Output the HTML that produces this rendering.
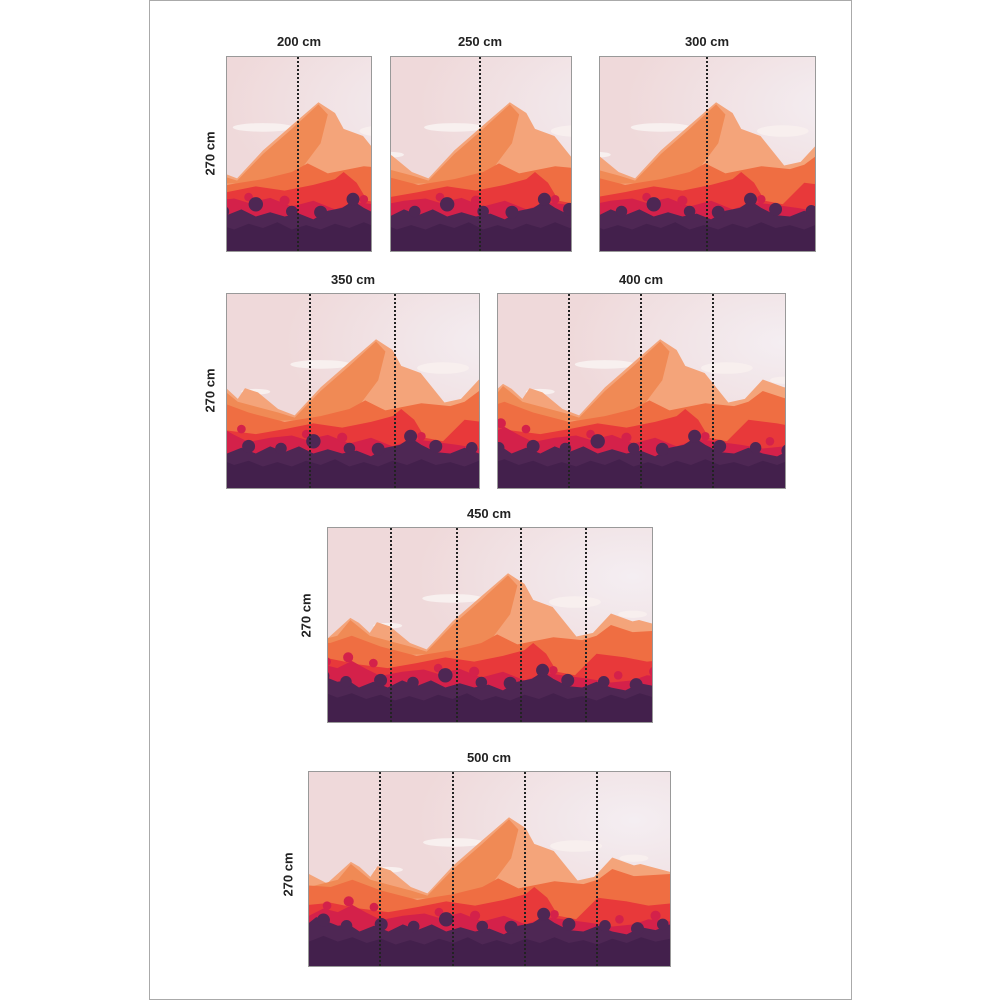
<!DOCTYPE html>
<html><head><meta charset="utf-8"><style>
html,body{margin:0;padding:0;background:#fff;width:1000px;height:1000px;overflow:hidden;position:relative;font-family:"Liberation Sans",sans-serif}
.frame{position:absolute;left:149px;top:0;width:701px;height:998px;border:1px solid #aaa}
.p{position:absolute;box-sizing:border-box;border:1px solid #999;overflow:hidden}
.p svg{display:block;width:100%;height:100%}
.t{position:absolute;font-weight:bold;font-size:13px;color:#222;text-align:center;width:120px}
.s{position:absolute;font-weight:bold;font-size:13px;color:#222;transform:rotate(-90deg);transform-origin:center;width:80px;text-align:center}
.d{position:absolute;width:0;border-left:2px dotted #222}
</style></head><body>
<div class="frame"></div>
<svg width="0" height="0" style="position:absolute">
<defs>
<radialGradient id="sky" cx="0.9" cy="0.25" r="0.6">
<stop offset="0" stop-color="#f4eef2"/><stop offset="1" stop-color="#efd9da"/></radialGradient>
<g id="scene">
<rect x="0" y="0" width="500" height="270" fill="url(#sky)"/>
<ellipse cx="200" cy="98" rx="42" ry="6" fill="#f8f0ef"/>
<ellipse cx="110" cy="136" rx="20" ry="4" fill="#f8f0ef"/>
<ellipse cx="370" cy="103" rx="36" ry="8" fill="#f8efee"/>
<ellipse cx="450" cy="120" rx="20" ry="5" fill="#f8efee"/>
<path fill="#f4a47a" d="M0,142 L25,155 L58,125 L70,132 L85,146 L95,131 L113,137 L141,160 L164,169 L200,130 L240,95 L277,63 L300,78 L312,100 L339,110 L372,151 L395,146 L420,119 L450,130 L459,128 L500,139 L500,270 L0,270Z"/>
<path fill="#f08a55" d="M0,160 L40,150 L58,128 L85,150 L141,165 L164,172 L200,135 L240,100 L277,66 L290,80 L280,120 L250,160 L200,175 L0,180Z"/>
<path fill="#ef6e42" d="M0,158 L30,160 L60,150 L100,165 L150,178 L200,170 L240,160 L262,148 L290,162 L340,152 L380,156 L400,150 L420,135 L450,145 L500,142 L500,270 L0,270Z"/>
<path fill="#e8393a" d="M0,185 L30,182 L70,190 L110,195 L150,188 L190,180 L230,186 L270,178 L300,170 L312,160 L330,175 L345,200 L370,205 L400,175 L440,180 L470,186 L500,183 L500,270 L0,270Z"/>
<g fill="#d4214a">
<path d="M0,200 L20,190 L40,195 L60,185 L80,196 L100,206 L130,200 L160,197 L180,203 L210,196 L240,208 L270,200 L300,212 L330,202 L360,206 L390,210 L420,215 L450,212 L470,205 L500,208 L500,270 L0,270Z"/>
<circle cx="25" cy="186" r="6"/><circle cx="55" cy="180" r="7"/><circle cx="90" cy="188" r="6"/><circle cx="180" cy="195" r="6"/><circle cx="230" cy="200" r="7"/><circle cx="340" cy="198" r="6"/><circle cx="430" cy="205" r="6"/><circle cx="480" cy="200" r="7"/>
</g>
<g fill="#4e2754">
<path d="M0,210 L10,202 L25,208 L40,214 L55,212 L70,222 L90,214 L110,222 L130,212 L150,220 L170,212 L190,222 L210,216 L230,222 L250,218 L270,226 L290,214 L310,210 L325,200 L340,210 L360,220 L380,222 L400,214 L420,222 L440,226 L460,216 L480,220 L500,212 L500,270 L0,270Z"/>
<circle cx="20" cy="206" r="9"/><circle cx="52" cy="214" r="8"/><circle cx="100" cy="212" r="9"/><circle cx="145" cy="215" r="8"/><circle cx="190" cy="205" r="10"/><circle cx="240" cy="215" r="8"/><circle cx="280" cy="216" r="9"/><circle cx="325" cy="198" r="9"/><circle cx="360" cy="212" r="9"/><circle cx="410" cy="214" r="8"/><circle cx="455" cy="218" r="9"/><circle cx="490" cy="212" r="8"/>
</g>
<path fill="#43204c" d="M0,236 L20,228 L40,236 L60,230 L80,238 L100,232 L120,240 L140,234 L160,240 L180,232 L200,238 L220,230 L240,240 L260,234 L280,240 L300,232 L320,238 L340,230 L360,238 L380,234 L400,240 L420,232 L440,238 L460,230 L480,236 L500,232 L500,270 L0,270Z"/>
</g></defs></svg>

<div class="t" style="left:239px;top:34px">200 cm</div>
<div class="t" style="left:420px;top:34px">250 cm</div>
<div class="t" style="left:647px;top:34px">300 cm</div>
<div class="t" style="left:293px;top:272px">350 cm</div>
<div class="t" style="left:581px;top:272px">400 cm</div>
<div class="t" style="left:429px;top:506px">450 cm</div>
<div class="t" style="left:429px;top:750px">500 cm</div>

<div class="s" style="left:170px;top:146px">270 cm</div>
<div class="s" style="left:170px;top:383px">270 cm</div>
<div class="s" style="left:266px;top:608px">270 cm</div>
<div class="s" style="left:248px;top:867px">270 cm</div>

<div class="p" style="left:226px;top:56px;width:146px;height:196px"><svg viewBox="150 0 200 270" preserveAspectRatio="none"><use href="#scene"/></svg></div>
<div class="p" style="left:390px;top:56px;width:182px;height:196px"><svg viewBox="112 0 250 270" preserveAspectRatio="none"><use href="#scene"/></svg></div>
<div class="p" style="left:599px;top:56px;width:217px;height:196px"><svg viewBox="115 0 300 270" preserveAspectRatio="none"><use href="#scene"/></svg></div>
<div class="p" style="left:226px;top:293px;width:254px;height:196px"><svg viewBox="70 0 350 270" preserveAspectRatio="none"><use href="#scene"/></svg></div>
<div class="p" style="left:497px;top:293px;width:289px;height:196px"><svg viewBox="51 0 400 270" preserveAspectRatio="none"><use href="#scene"/></svg></div>
<div class="p" style="left:327px;top:527px;width:326px;height:196px"><svg viewBox="27 0 450 270" preserveAspectRatio="none"><use href="#scene"/></svg></div>
<div class="p" style="left:308px;top:771px;width:363px;height:196px"><svg viewBox="0 0 500 270" preserveAspectRatio="none"><use href="#scene"/></svg></div>

<div class="d" style="left:297px;top:57px;height:194px"></div>
<div class="d" style="left:479px;top:57px;height:194px"></div>
<div class="d" style="left:706px;top:57px;height:194px"></div>
<div class="d" style="left:309px;top:294px;height:194px"></div>
<div class="d" style="left:394px;top:294px;height:194px"></div>
<div class="d" style="left:568px;top:294px;height:194px"></div>
<div class="d" style="left:640px;top:294px;height:194px"></div>
<div class="d" style="left:712px;top:294px;height:194px"></div>
<div class="d" style="left:390px;top:528px;height:194px"></div>
<div class="d" style="left:456px;top:528px;height:194px"></div>
<div class="d" style="left:520px;top:528px;height:194px"></div>
<div class="d" style="left:585px;top:528px;height:194px"></div>
<div class="d" style="left:379px;top:772px;height:194px"></div>
<div class="d" style="left:452px;top:772px;height:194px"></div>
<div class="d" style="left:524px;top:772px;height:194px"></div>
<div class="d" style="left:596px;top:772px;height:194px"></div>
</body></html>
